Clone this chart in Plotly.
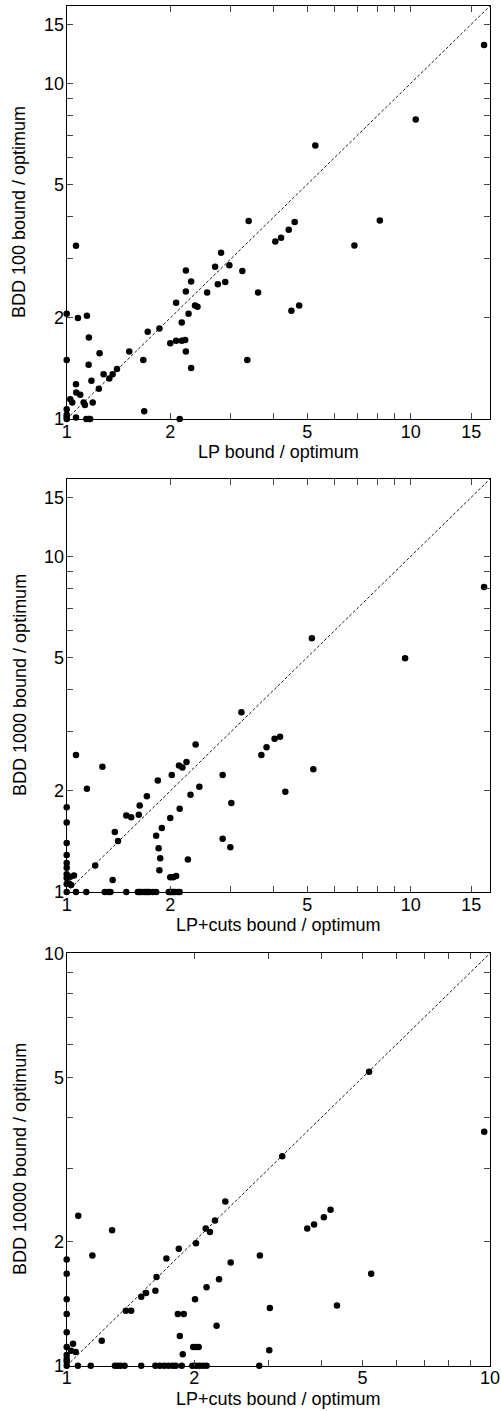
import numpy as np
import plotly.graph_objects as go

# Panel 1: LP bound vs BDD 100 bound (ratios to optimum)
lp_x = [3.38, 4.60, 8.13, 4.42, 4.20, 4.04, 6.86, 1.064, 2.81, 2.70, 2.97, 3.24, 2.22, 2.30,
        2.75, 2.89, 2.22, 2.56, 3.60, 2.08, 2.36, 2.40, 4.74, 4.50, 2.26, 1.00, 1.145, 1.078,
        2.16, 1.86, 1.72, 1.16, 2.00, 2.08, 2.16, 2.21, 2.22, 1.52, 1.246, 1.00, 1.67, 3.35,
        1.158, 2.30, 1.40, 1.36, 1.28, 1.33, 1.18, 1.064, 1.24, 1.066, 1.095, 1.024, 1.038,
        1.12, 1.19, 1.13, 1.68, 1.00, 1.00, 1.00, 1.00, 1.064, 1.14, 1.16, 1.17, 2.13,
        5.28, 10.34, 16.34]
bdd100_y = [3.89, 3.86, 3.90, 3.66, 3.47, 3.38, 3.29, 3.28, 3.13, 2.84, 2.87, 2.76, 2.77, 2.57,
            2.52, 2.56, 2.40, 2.38, 2.38, 2.22, 2.18, 2.16, 2.18, 2.10, 2.06, 2.06, 2.03, 2.00,
            1.94, 1.86, 1.82, 1.75, 1.68, 1.71, 1.71, 1.72, 1.59, 1.59, 1.57, 1.50, 1.50, 1.50,
            1.45, 1.42, 1.41, 1.36, 1.36, 1.32, 1.30, 1.27, 1.23, 1.20, 1.18, 1.145, 1.12,
            1.12, 1.12, 1.10, 1.054, 1.07, 1.03, 1.016, 1.00, 1.01, 1.00, 1.00, 1.00, 1.00,
            6.53, 7.80, 13.0]

# Panel 2: LP+cuts bound vs BDD 1000 bound
cuts2_x = [5.16, 9.63, 16.34, 3.22, 4.17, 4.02, 3.81, 3.68, 5.21, 4.32, 1.064, 2.37, 1.27, 2.23,
           2.12, 2.17, 2.02, 1.84, 2.84, 2.43, 1.145, 1.71, 2.29, 1.63, 3.01, 2.13, 1.49, 1.54,
           1.62, 2.00, 1.00, 1.00, 1.38, 1.41, 1.89, 1.82, 1.85, 1.87, 1.86, 2.84, 2.99, 2.25,
           1.21, 1.36, 2.00, 2.04, 2.08, 1.024, 1.05, 1.016, 1.03,
           1.00, 1.00, 1.00, 1.00, 1.00, 1.00, 1.00, 1.00,
           1.064, 1.14, 1.29, 1.32, 1.34, 1.49, 1.61, 1.63, 1.65, 1.68, 1.70, 1.72, 1.74,
           1.78, 1.82, 1.98, 2.00, 2.02, 2.04, 2.06, 2.10, 2.13]
bdd1000_y = [5.70, 4.97, 8.11, 3.43, 2.90, 2.86, 2.70, 2.56, 2.32, 1.99, 2.56, 2.75, 2.36, 2.44,
             2.38, 2.35, 2.23, 2.15, 2.23, 2.06, 2.03, 1.93, 1.95, 1.81, 1.84, 1.77, 1.69, 1.67,
             1.70, 1.66, 1.79, 1.61, 1.51, 1.42, 1.55, 1.47, 1.35, 1.26, 1.16, 1.44, 1.36, 1.25,
             1.20, 1.086, 1.106, 1.106, 1.116, 1.11, 1.12, 1.06, 1.05,
             1.40, 1.29, 1.22, 1.18, 1.13, 1.10, 1.056, 1.00,
             1.00, 1.00, 1.00, 1.00, 1.00, 1.00, 1.00, 1.00, 1.00, 1.00, 1.00, 1.00, 1.00,
             1.00, 1.00, 1.00, 1.00, 1.00, 1.00, 1.00, 1.00, 1.00]

# Panel 3: LP+cuts bound vs BDD 10000 bound
cuts3_x = [5.18, 9.69, 3.23, 2.37, 1.065, 2.24, 2.13, 2.18, 4.20, 4.05, 3.84, 3.70, 1.28, 1.84,
           2.02, 1.15, 2.86, 1.72, 2.44, 5.24, 1.63, 2.29, 2.14, 1.62, 1.50, 1.54, 2.01, 4.35,
           3.02, 1.38, 1.42, 1.83, 1.89, 2.26, 1.85, 1.21, 1.035, 1.99, 2.02, 2.05, 1.88, 3.01,
           1.024, 1.05,
           1.00, 1.00, 1.00, 1.00, 1.00, 1.00, 1.00, 1.00, 1.00, 1.00,
           1.063, 1.14, 1.30, 1.32, 1.34, 1.37, 1.50, 1.62, 1.66, 1.70, 1.74, 1.78, 1.81, 1.87,
           1.98, 2.02, 2.06, 2.10, 2.14, 2.85]
bdd10000_y = [5.16, 3.69, 3.22, 2.50, 2.31, 2.25, 2.15, 2.11, 2.39, 2.29, 2.20, 2.15, 2.13, 1.92,
              1.98, 1.85, 1.85, 1.82, 1.78, 1.67, 1.64, 1.62, 1.55, 1.52, 1.47, 1.50, 1.45, 1.40,
              1.38, 1.36, 1.36, 1.335, 1.335, 1.25, 1.18, 1.15, 1.13, 1.11, 1.11, 1.11, 1.066, 1.09,
              1.087, 1.08,
              1.81, 1.67, 1.45, 1.335, 1.205, 1.11, 1.062, 1.038, 1.022, 1.00,
              1.00, 1.00, 1.00, 1.00, 1.00, 1.00, 1.00, 1.00, 1.00, 1.00, 1.00, 1.00, 1.00, 1.00,
              1.00, 1.00, 1.00, 1.00, 1.00, 1.00]

major_17 = [1, 2, 5, 10, 15]
major_10 = [1, 2, 5, 10]
minor_ticks = [3, 4, 6, 7, 8, 9]
x_titles = ["LP bound / optimum", "LP+cuts bound / optimum", "LP+cuts bound / optimum"]
y_titles = ["BDD 100 bound / optimum", "BDD 1000 bound / optimum", "BDD 10000 bound / optimum"]

W, H = 501, 1411
FONT = "Liberation Sans, Arial, Helvetica, sans-serif"
xdom = [66.7 / W, 490.0 / W]
panels = [  # (top px, bottom px, max)
    (6.0, 419.0, 17.0),
    (479.0, 892.0, 17.0),
    (953.3, 1365.7, 10.0),
]
data = [(lp_x, bdd100_y), (cuts2_x, bdd1000_y), (cuts3_x, bdd10000_y)]


def axis(vmax, dom, anchor, standoff):
    major = major_17 if vmax > 10 else major_10
    return dict(
        type="log", range=[0, np.log10(vmax)], domain=dom, anchor=anchor,
        automargin=False, ticklabelstandoff=standoff,
        tickmode="array", tickvals=major, ticktext=[str(v) for v in major],
        ticks="inside", ticklen=6, tickwidth=1, tickcolor="#444",
        showline=True, linecolor="black", linewidth=1.3, mirror="allticks",
        showgrid=False, zeroline=False,
        minor=dict(tickmode="array", tickvals=minor_ticks, ticks="inside",
                   ticklen=6, tickwidth=1, tickcolor="#444", showgrid=False),
        tickfont=dict(family=FONT, size=18, color="black"),
    )


fig = go.Figure()
layout = dict(template="none", width=W, height=H, margin=dict(l=0, r=0, t=0, b=0, pad=0),
              paper_bgcolor="white", plot_bgcolor="white", showlegend=False,
              font=dict(family=FONT, size=18, color="black"),
              annotations=[])

for i, ((top, bot, vmax), (xs, ys)) in enumerate(zip(panels, data)):
    n = "" if i == 0 else str(i + 1)
    ydom = [1 - bot / H, 1 - top / H]
    layout["xaxis" + n] = axis(vmax, xdom, "y" + n, -4)
    layout["yaxis" + n] = axis(vmax, ydom, "x" + n, -2)
    fig.add_trace(go.Scatter(x=[1, vmax], y=[1, vmax], mode="lines",
                             line=dict(color="black", width=0.9, dash="3px,2px"),
                             xaxis="x" + n, yaxis="y" + n, hoverinfo="skip"))
    fig.add_trace(go.Scatter(x=xs, y=ys, mode="markers", cliponaxis=False,
                             marker=dict(color="black", size=6.5, line=dict(width=0)),
                             xaxis="x" + n, yaxis="y" + n))
    layout["annotations"].append(dict(
        text=x_titles[i], xref="paper", yref="paper", x=278.3 / W, y=1 - (bot + 33) / H,
        xanchor="center", yanchor="middle", showarrow=False,
        font=dict(family=FONT, size=18, color="black")))
    layout["annotations"].append(dict(
        text=y_titles[i], xref="paper", yref="paper", x=19.5 / W, y=1 - (top + bot) / 2 / H,
        xanchor="center", yanchor="middle", textangle=-90, showarrow=False,
        font=dict(family=FONT, size=18, color="black")))

fig.update_layout(**layout)
fig.write_html("out.html", config={"displayModeBar": False},
               post_script="document.body.style.margin='0';document.body.style.overflow='hidden';")
